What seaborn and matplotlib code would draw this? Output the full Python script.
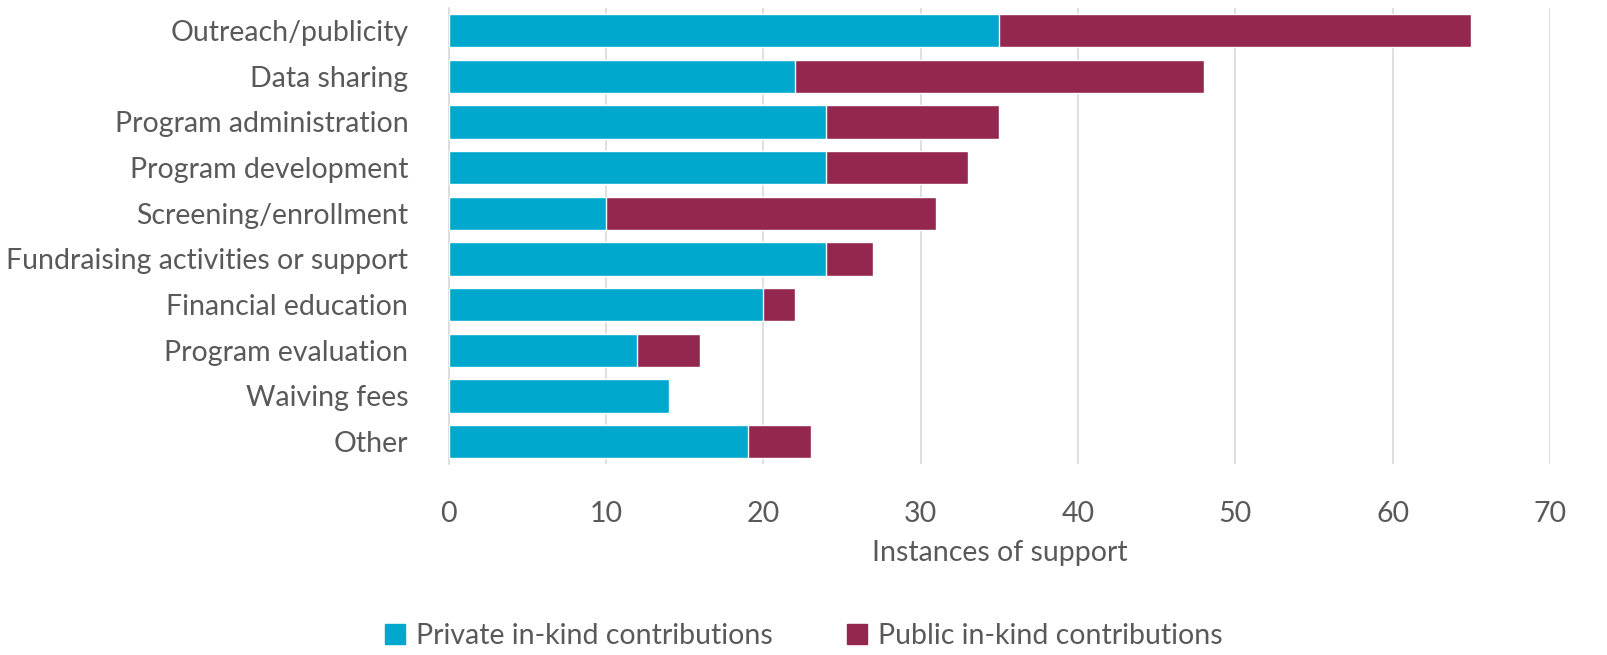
import matplotlib.pyplot as plt
import pandas as pd
import seaborn as sns
from matplotlib.patches import Patch

categories = ["Outreach/publicity", "Data sharing", "Program administration",
              "Program development", "Screening/enrollment",
              "Fundraising activities or support", "Financial education",
              "Program evaluation", "Waiving fees", "Other"]
private = [35, 22, 24, 24, 10, 24, 20, 12, 14, 19]
public = [30, 26, 11, 9, 21, 3, 2, 4, 0, 4]

df = pd.DataFrame({"category": categories, "private": private, "public": public})
df["total"] = df["private"] + df["public"]

sns.set_style("white")
plt.rcParams["font.family"] = ["Lato", "DejaVu Sans"]
text_col = "#595959"
cyan = "#00A8CE"
maroon = "#93274F"
fs = 20.5

fig, ax = plt.subplots(figsize=(16.08, 6.55), dpi=100)
fig.subplots_adjust(left=0.279, right=0.964, top=0.988, bottom=0.291)

# stacked: draw totals first, then the private part over them
sns.barplot(data=df, x="total", y="category", color=maroon, saturation=1,
            width=0.73, ax=ax, zorder=2)
sns.barplot(data=df, x="private", y="category", color=cyan, saturation=1,
            width=0.73, ax=ax, zorder=3)

ax.set_xlim(0, 70)
ax.set_xticks(range(0, 71, 10))
ax.xaxis.grid(True, color="#D9D9D9", linewidth=1.2, zorder=0)
ax.set_axisbelow(True)
for s in ["top", "right", "bottom"]:
    ax.spines[s].set_visible(False)
ax.spines["left"].set_color("#D9D9D9")
ax.spines["left"].set_linewidth(1.2)
ax.tick_params(axis="both", length=0, labelsize=fs, labelcolor=text_col)
ax.tick_params(axis="x", pad=26)
ax.tick_params(axis="y", pad=29)
ax.set_ylabel("")
ax.set_xlabel("Instances of support", fontsize=fs, color=text_col, labelpad=10)

handles = [Patch(color=cyan, label="Private in-kind contributions"),
           Patch(color=maroon, label="Public in-kind contributions")]
fig.legend(handles=handles, loc="lower center", ncol=2, frameon=False,
           bbox_to_anchor=(0.5, -0.03), fontsize=fs, labelcolor=text_col,
           handlelength=0.7, handleheight=0.7, columnspacing=2.6, handletextpad=0.4)

fig.savefig("out.png", dpi=100)
